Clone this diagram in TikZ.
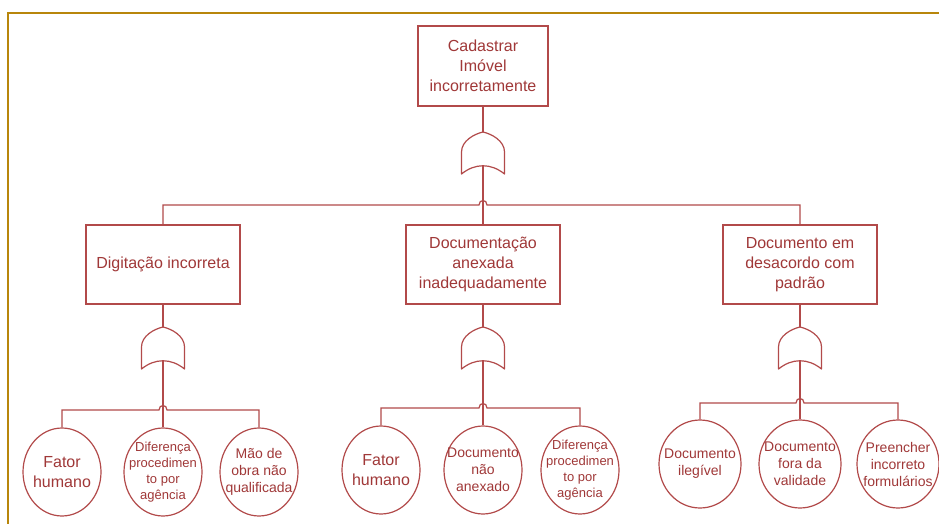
\documentclass[tikz,border=0pt]{standalone}
\usepackage{fontspec}
\setmainfont{Liberation Sans}
\usetikzlibrary{shapes.geometric,calc}
\definecolor{wirered}{RGB}{178,74,74}
\definecolor{textred}{RGB}{160,56,56}
\definecolor{framegold}{RGB}{184,134,11}
\tikzset{
  wire/.style={draw=wirered,line width=1.2pt},
  eventbox/.style={rectangle,draw=wirered,line width=1.2pt,fill=white,align=center,
    text=textred,font=\fontsize{16}{20}\selectfont,inner sep=0pt},
  leaf/.style={ellipse,draw=wirered,line width=1.2pt,minimum width=78pt,
    minimum height=88pt,inner sep=0pt},
  leaftext/.style={align=center,text=textred,inner sep=0pt},
  bigtxt/.style={font=\fontsize{16}{20}\selectfont},
  midtxt/.style={font=\fontsize{14}{17}\selectfont},
  smalltxt/.style={font=\fontsize{13}{16}\selectfont},
  % OR gate: pointed top at the origin, concave base
  orgate/.pic={
    \draw[wire,line join=round] (-21.5,42) -- (-21.5,20)
      .. controls (-21.5,9) and (-9,2) .. (0,0)
      .. controls (9,2) and (21.5,9) .. (21.5,20)
      -- (21.5,42)
      .. controls (8,31) and (-8,31) .. cycle;
    \coordinate (-in) at (0,0);
    \coordinate (-out) at (0,34);
  }
}
\begin{document}
\begin{tikzpicture}[x=1pt,y=-1pt]
\useasboundingbox (0,0) rectangle (939,524);
\fill[white] (0,0) rectangle (939,524);
% page frame
\draw[framegold,line width=1.5pt] (8,524) -- (8,13) -- (939,13);

% top event
\node[eventbox,minimum width=130pt,minimum height=80pt] (top) at (483,66)
  {Cadastrar\\Imóvel\\incorretamente};
\pic (g0) at (483,132) {orgate};

% intermediate events
\node[eventbox,minimum width=154pt,minimum height=79pt] (b1) at (163,264.5)
  {Digitação incorreta};
\node[eventbox,minimum width=154pt,minimum height=79pt] (b2) at (483,264.5)
  {Documentação\\anexada\\inadequadamente};
\node[eventbox,minimum width=154pt,minimum height=79pt] (b3) at (800,264.5)
  {Documento em\\desacordo com\\padrão};

\pic (g1) at (163,327) {orgate};
\pic (g2) at (483,327) {orgate};
\pic (g3) at (800,327) {orgate};

% basic events
\node[leaf] (c11) at (62,472) {};
\node[leaf] (c12) at (163,472) {};
\node[leaf] (c13) at (259,472) {};
\node[leaf] (c21) at (381,470) {};
\node[leaf] (c22) at (483,470) {};
\node[leaf] (c23) at (580,470) {};
\node[leaf,minimum width=82pt] (c31) at (700,464) {};
\node[leaf,minimum width=82pt] (c32) at (800,464) {};
\node[leaf,minimum width=82pt] (c33) at (898,464) {};

\node[leaftext,bigtxt] (t11) at (c11) {Fator\\humano};
\node[leaftext,smalltxt] (t12) at (c12) {Diferença\\procedimen\\to por\\agência};
\node[leaftext,midtxt] (t13) at (c13) {Mão de\\obra não\\qualificada};
\node[leaftext,bigtxt] (t21) at (c21) {Fator\\humano};
\node[leaftext,midtxt] (t22) at (c22) {Documento\\não\\anexado};
\node[leaftext,smalltxt] (t23) at (c23) {Diferença\\procedimen\\to por\\agência};
\node[leaftext,midtxt] (t31) at (c31) {Documento\\ilegível};
\node[leaftext,midtxt] (t32) at (c32) {Documento\\fora da\\validade};
\node[leaftext,midtxt] (t33) at (c33) {Preencher\\incorreto\\formulários};

% bus crossings
\coordinate (bus0) at (483,205);
\coordinate (bus1) at (163,410);
\coordinate (bus2) at (483,408);
\coordinate (bus3) at (800,403);

% connectors
\draw[wire] (top.south) -- (g0-in);
\draw[wire] (g0-out) -- (b2.north);
\draw[wire] (b1.north) |- ($(bus0)+(-4,0)$)
  .. controls ($(bus0)+(-4,-6)$) and ($(bus0)+(4,-6)$) .. ($(bus0)+(4,0)$)
  -| (b3.north);

\draw[wire] (b1.south) -- (g1-in);
\draw[wire] (b2.south) -- (g2-in);
\draw[wire] (b3.south) -- (g3-in);

\draw[wire] (g1-out) -- (c12.north);
\draw[wire] (c11.north) |- ($(bus1)+(-4,0)$)
  .. controls ($(bus1)+(-4,-6)$) and ($(bus1)+(4,-6)$) .. ($(bus1)+(4,0)$)
  -| (c13.north);

\draw[wire] (g2-out) -- (c22.north);
\draw[wire] (c21.north) |- ($(bus2)+(-4,0)$)
  .. controls ($(bus2)+(-4,-6)$) and ($(bus2)+(4,-6)$) .. ($(bus2)+(4,0)$)
  -| (c23.north);

\draw[wire] (g3-out) -- (c32.north);
\draw[wire] (c31.north) |- ($(bus3)+(-4,0)$)
  .. controls ($(bus3)+(-4,-6)$) and ($(bus3)+(4,-6)$) .. ($(bus3)+(4,0)$)
  -| (c33.north);
\end{tikzpicture}
\end{document}
